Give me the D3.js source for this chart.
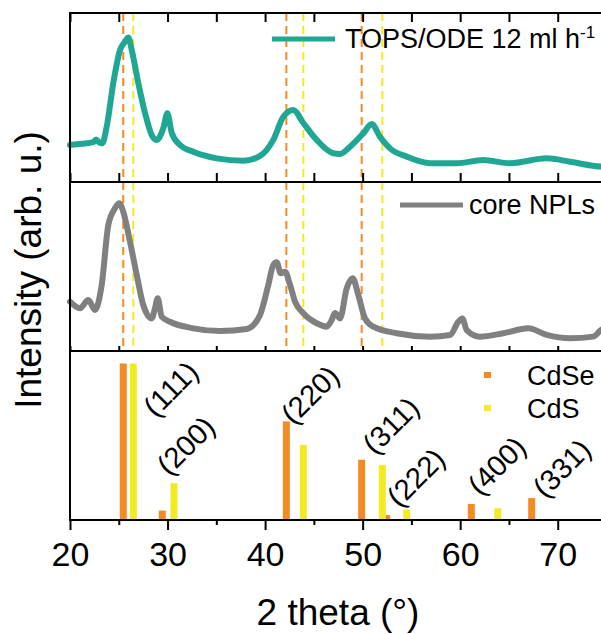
<!DOCTYPE html>
<meta charset="utf-8">
<style>

body {
  margin: 0;
  background: #fff;
}

text {
  font-family: "Liberation Sans", Arial, sans-serif;
  fill: #000;
}

.frame {
  stroke: #000;
  stroke-width: 2px;
}

.curve {
  fill: none;
  stroke-width: 6px;
  stroke-linejoin: round;
  stroke-linecap: round;
}

</style>

<body>

<script src="https://d3js.org/d3.v7.min.js"></script>
<script>

// 2 theta range and tick labels
var thetaDomain = [20, 75];
var majorTicks = [20, 30, 40, 50, 60, 70];
var minorTicks = [25, 35, 45, 55, 65, 75];
var allTicks = d3.range(20, 76, 5);

// TOPS/ODE 12 ml h-1 pattern, [2 theta, intensity]
var topsPoints = [
  [20.0, 21.9], [21.2, 22.6], [22.39, 23.6], [22.67, 25.2], [23.0, 23.3], [23.3, 22.9],
  [23.76, 32.7], [24.44, 58.6], [25.13, 78.1], [25.64, 83.0], [25.98, 85.5],
  [26.33, 78.1], [27.0, 58.6], [27.69, 40.8], [28.38, 27.8], [28.89, 24.9],
  [29.57, 32.0], [29.98, 40.7], [30.43, 29.0], [31.28, 21.9], [32.64, 17.9],
  [35.04, 14.0], [37.77, 12.6], [39.48, 15.4], [40.84, 24.9], [41.87, 38.6],
  [42.89, 42.6], [43.92, 34.9], [45.29, 24.9], [46.99, 17.0], [47.68, 16.6],
  [48.71, 20.9], [50.07, 28.8], [50.93, 34.3], [51.78, 26.8], [52.81, 19.9],
  [54.52, 15.0], [56.91, 11.1], [59.65, 11.1], [62.37, 13.0], [65.11, 11.1],
  [68.87, 14.0], [71.26, 12.0], [74.44, 9.1], [75.0, 9.0]
];

// core NPLs pattern, [2 theta, intensity]
var corePoints = [
  [20.0, 29.2], [21.03, 25.3], [21.88, 30.2], [22.56, 24.3], [23.25, 39.1],
  [23.93, 74.6], [24.61, 84.4], [25.05, 87.5], [25.46, 82.4], [26.15, 64.7],
  [26.84, 45.0], [27.51, 27.2], [28.38, 19.3], [28.71, 25.3], [28.99, 31.2],
  [29.4, 20.3], [30.25, 17.3], [32.64, 13.4], [35.38, 11.8], [38.12, 13.0],
  [39.48, 21.3], [40.33, 39.1], [40.84, 50.9], [41.19, 52.5], [41.6, 46.0],
  [42.04, 46.9], [42.56, 39.1], [43.07, 29.2], [43.92, 22.3], [45.29, 16.4],
  [46.32, 14.4], [46.8, 18.0], [47.17, 22.5], [47.68, 19.3], [48.37, 37.1],
  [48.98, 43.0], [49.56, 33.1], [50.24, 19.3], [51.1, 14.4], [53.49, 10.5],
  [56.91, 8.5], [58.96, 9.5], [59.81, 17.3], [60.22, 19.3], [60.67, 12.4],
  [62.03, 8.5], [64.42, 10.5], [66.99, 13.4], [68.87, 9.5], [71.26, 7.5],
  [73.65, 8.5], [74.44, 12.4], [75.0, 14.0]
];

// reference reflections
var hkl = ["(111)", "(200)", "(220)", "(311)", "(222)", "(400)", "(331)"];
var cdseTheta = [25.46, 29.46, 42.18, 49.9, 52.47, 61.14, 67.33];
var cdseInt = [100, 6, 63, 38.5, 3.2, 10.2, 14];
var cdsTheta = [26.49, 30.66, 43.92, 52.02, 54.52, 63.85];
var cdsInt = [100, 23.5, 48, 35.2, 6.7, 7.5];
var labelTheta = [30.33, 31.87, 44.6, 52.89, 55.45, 63.75, 70.41];
var labelInt = [83.8, 47.6, 80.1, 60.4, 27.2, 34.7, 33.1];
var markedHkl = ["(111)", "(220)", "(311)"];

var orange = "#f28c22",
    yellow = "#f2ea22",
    teal = "#1fa794",
    grey = "#808080";

var width = 601, height = 634;
var left = 70, right = 606.5,
    panelTop = [13, 182, 351],
    panelH = 169;

var svg = d3.select("body").append("svg")
    .attr("width", width)
    .attr("height", height);

var x = d3.scaleLinear().domain(thetaDomain).range([left, right]);

var yTop = d3.scaleLinear().domain([0, 100]).range([panelTop[0] + panelH, panelTop[0]]);
var yMid = d3.scaleLinear().domain([0, 100]).range([panelTop[1] + panelH, panelTop[1]]);
var yBot = d3.scaleLinear().domain([0, 108]).range([panelTop[2] + panelH, panelTop[2]]);

// dashed reference lines through the two pattern panels
var dashes = [];
markedHkl.forEach(function(h) {
  var i = hkl.indexOf(h);
  dashes.push({t: cdseTheta[i], c: orange});
  dashes.push({t: cdsTheta[i], c: yellow});
});

svg.selectAll(".ref")
  .data(dashes)
  .enter().append("line")
    .attr("class", "ref")
    .attr("x1", function(d) { return x(d.t); })
    .attr("x2", function(d) { return x(d.t); })
    .attr("y1", panelTop[0])
    .attr("y2", panelTop[2])
    .style("stroke", function(d) { return d.c; })
    .style("stroke-width", 2)
    .style("stroke-dasharray", "8,5");

// patterns
var lineTop = d3.line()
    .x(function(d) { return x(d[0]); })
    .y(function(d) { return yTop(d[1]); })
    .curve(d3.curveMonotoneX);

var lineMid = d3.line()
    .x(function(d) { return x(d[0]); })
    .y(function(d) { return yMid(d[1]); })
    .curve(d3.curveMonotoneX);

svg.append("path")
    .datum(topsPoints)
    .attr("class", "curve")
    .style("stroke", teal)
    .attr("d", lineTop);

svg.append("path")
    .datum(corePoints)
    .attr("class", "curve")
    .style("stroke", grey)
    .attr("d", lineMid);

// reference bars
var barW = 7;
var bars = [];
cdseTheta.forEach(function(t, i) { bars.push({t: t, v: cdseInt[i], c: orange}); });
cdsTheta.forEach(function(t, i) { bars.push({t: t, v: cdsInt[i], c: yellow}); });

svg.selectAll(".bar")
  .data(bars)
  .enter().append("rect")
    .attr("class", "bar")
    .attr("x", function(d) { return x(d.t) - barW / 2; })
    .attr("y", function(d) { return yBot(d.v); })
    .attr("width", barW)
    .attr("height", function(d) { return yBot(0) - yBot(d.v); })
    .style("fill", function(d) { return d.c; });

svg.selectAll(".hkl")
  .data(hkl)
  .enter().append("text")
    .attr("class", "hkl")
    .attr("transform", function(d, i) {
      return "translate(" + x(labelTheta[i]) + "," + yBot(labelInt[i]) + ") rotate(-45)";
    })
    .attr("text-anchor", "middle")
    .attr("dy", "0.35em")
    .style("font-size", "29px")
    .text(function(d) { return d; });

// frame and ticks
function styleAxis(g) {
  g.select(".domain").remove();
  g.selectAll(".tick line").style("stroke", "#000").style("stroke-width", 2);
}

svg.append("g")
    .attr("transform", "translate(0," + panelTop[0] + ")")
    .call(d3.axisTop(x).tickValues(allTicks).tickSize(-9).tickFormat(""))
    .call(styleAxis);

svg.append("g")
    .attr("transform", "translate(0," + (panelTop[0] + panelH) + ")")
    .call(d3.axisBottom(x).tickValues(allTicks).tickSize(-9).tickFormat(""))
    .call(styleAxis);

svg.append("g")
    .attr("transform", "translate(0," + (panelTop[1] + panelH) + ")")
    .call(d3.axisBottom(x).tickValues(allTicks).tickSize(-5).tickFormat(""))
    .call(styleAxis);

var bottomY = panelTop[2] + panelH;

svg.append("g")
    .attr("transform", "translate(0," + bottomY + ")")
    .call(d3.axisBottom(x).tickValues(minorTicks).tickSize(5).tickFormat(""))
    .call(styleAxis);

var xAxis = svg.append("g")
    .attr("transform", "translate(0," + bottomY + ")")
    .call(d3.axisBottom(x).tickValues(majorTicks).tickSize(10).tickPadding(8))
    .call(styleAxis);

xAxis.selectAll(".tick text")
    .attr("y", 46)
    .attr("dy", null)
    .style("font-size", "34px")
    .style("font-family", "'Liberation Sans', Arial, sans-serif")
    .style("fill", "#000");

[panelTop[0], panelTop[1], panelTop[2], bottomY].forEach(function(yy) {
  svg.append("line")
      .attr("class", "frame")
      .attr("x1", left - 1).attr("x2", width + 5)
      .attr("y1", yy).attr("y2", yy);
});

svg.append("line")
    .attr("class", "frame")
    .attr("x1", left).attr("x2", left)
    .attr("y1", panelTop[0] - 1).attr("y2", bottomY + 1);

// legends
svg.append("line")
    .attr("x1", 272).attr("x2", 335)
    .attr("y1", 39).attr("y2", 39)
    .style("stroke", teal)
    .style("stroke-width", 5);

var topsLabel = svg.append("text")
    .attr("x", 345).attr("y", 48)
    .style("font-size", "27px");
topsLabel.append("tspan").text("TOPS/ODE 12 ml h");
topsLabel.append("tspan")
    .attr("dy", -10)
    .style("font-size", "17px")
    .text("-1");

svg.append("line")
    .attr("x1", 400).attr("x2", 463)
    .attr("y1", 205).attr("y2", 205)
    .style("stroke", grey)
    .style("stroke-width", 5);

svg.append("text")
    .attr("x", 469).attr("y", 214)
    .style("font-size", "27px")
    .text("core NPLs");

var barLegend = [{name: "CdSe", c: orange, y: 375}, {name: "CdS", c: yellow, y: 408}];

svg.selectAll(".bl-mark")
  .data(barLegend)
  .enter().append("rect")
    .attr("class", "bl-mark")
    .attr("x", 484).attr("y", function(d) { return d.y - 3; })
    .attr("width", 7).attr("height", 6)
    .style("fill", function(d) { return d.c; });

svg.selectAll(".bl-text")
  .data(barLegend)
  .enter().append("text")
    .attr("class", "bl-text")
    .attr("x", 527).attr("y", function(d) { return d.y + 9.5; })
    .style("font-size", "27px")
    .text(function(d) { return d.name; });

// axis titles
svg.append("text")
    .attr("x", 338).attr("y", 625)
    .attr("text-anchor", "middle")
    .style("font-size", "37px")
    .text("2 theta (°)");

svg.append("text")
    .attr("transform", "translate(41,270) rotate(-90)")
    .attr("text-anchor", "middle")
    .style("font-size", "37px")
    .text("Intensity (arb. u.)");

</script>
</body>
